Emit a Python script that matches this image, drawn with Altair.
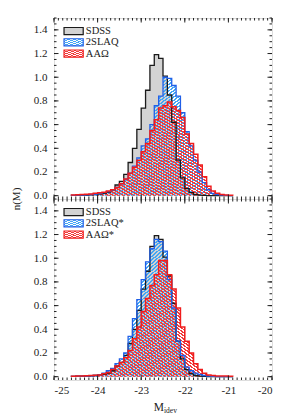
import altair as alt
import pandas as pd
import numpy as np

# ---------------- data ----------------
BIN_LEFT = [round(-24.6 + 0.1 * i, 1) for i in range(37)]   # -24.6 ... -21.0
BIN_WIDTH = 0.1

SDSS = [0.003, 0.005, 0.005, 0.005, 0.008, 0.01, 0.015, 0.02, 0.03, 0.05,
        0.09, 0.12, 0.18, 0.28, 0.40, 0.56, 0.74, 0.89, 1.10, 1.19,
        1.16, 1.01, 0.85, 0.62, 0.30, 0.15, 0.06, 0.025, 0.01, 0.005,
        0.003, 0.0, 0.0, 0.0, 0.0, 0.0, 0.0]

SLAQ_TOP = [0.003, 0.005, 0.005, 0.008, 0.01, 0.012, 0.02, 0.025, 0.035, 0.05,
            0.07, 0.10, 0.14, 0.19, 0.25, 0.32, 0.42, 0.48, 0.60, 0.76,
            0.84, 1.00, 0.99, 0.93, 0.84, 0.70, 0.54, 0.42, 0.30, 0.20,
            0.11, 0.05, 0.02, 0.01, 0.005, 0.003, 0.0]

AAO_TOP = [0.005, 0.008, 0.01, 0.012, 0.015, 0.02, 0.025, 0.03, 0.04, 0.05,
           0.07, 0.10, 0.14, 0.19, 0.24, 0.30, 0.37, 0.44, 0.55, 0.64,
           0.74, 0.76, 0.79, 0.75, 0.72, 0.66, 0.52, 0.44, 0.35, 0.26,
           0.16, 0.08, 0.04, 0.02, 0.01, 0.005, 0.003]

SLAQ_BOT = [0.003, 0.005, 0.005, 0.005, 0.008, 0.01, 0.015, 0.03, 0.05, 0.07,
            0.11, 0.15, 0.20, 0.34, 0.49, 0.65, 0.82, 0.97, 1.08, 1.16,
            1.14, 1.06, 0.82, 0.58, 0.30, 0.18, 0.08, 0.05, 0.03, 0.02,
            0.01, 0.005, 0.003, 0.0, 0.0, 0.0, 0.0]

AAO_BOT = [0.003, 0.005, 0.005, 0.008, 0.01, 0.012, 0.015, 0.025, 0.035, 0.06,
           0.09, 0.12, 0.16, 0.22, 0.32, 0.42, 0.55, 0.66, 0.77, 0.86,
           0.98, 0.98, 0.86, 0.74, 0.58, 0.42, 0.30, 0.20, 0.11, 0.06,
           0.03, 0.015, 0.01, 0.005, 0.005, 0.005, 0.003]

X_TICKS = [-25, -24, -23, -22, -21, -20]
Y_TICKS = [0.0, 0.2, 0.4, 0.6, 0.8, 1.0, 1.2, 1.4]
LEGEND_TOP = ["SDSS", "2SLAQ", "AAΩ"]
LEGEND_BOT = ["SDSS", "2SLAQ*", "AAΩ*"]
LEGEND_ROWS = [1.39, 1.295, 1.20]

# ---------------- style ----------------
W, H = 218, 181
XDOM = [-25, -20]
YDOM = [-0.028, 1.5]
XPX = W / (XDOM[1] - XDOM[0])
YPX = H / (YDOM[1] - YDOM[0])
FONT = "Liberation Serif"
GRAY = "#d3d3d3"
BLUE_LINE = "#1f5fe8"
BLUE_HATCH = "#44a6f4"
RED_LINE = "#f01c1c"
RED_HATCH = "#f23a3a"
CLEAR = "rgba(255,255,255,0)"

xs = alt.Scale(domain=XDOM, nice=False, zero=False)
ys = alt.Scale(domain=YDOM, nice=False, zero=False)


def hatch(color, n, forward=True, duty=0.5):
    stops = []
    for i in range(n):
        a, b, c = i / n, (i + duty) / n, (i + 1) / n
        stops += [alt.GradientStop(offset=a, color=color),
                  alt.GradientStop(offset=b, color=color),
                  alt.GradientStop(offset=b, color=CLEAR),
                  alt.GradientStop(offset=c, color=CLEAR)]
    if forward:   # "/" stripes
        return alt.LinearGradient(gradient="linear", stops=stops, x1=0, y1=0, x2=1, y2=1)
    return alt.LinearGradient(gradient="linear", stops=stops, x1=0, y1=1, x2=1, y2=0)


def n_stripes(vals, period=2.6):
    nz = [i for i, v in enumerate(vals) if v > 0]
    w = (len(nz) + 1) * BIN_WIDTH * XPX
    h = max(vals) * YPX
    spacing = 1.0 / np.sqrt(1.0 / w ** 2 + 1.0 / h ** 2)
    return int(round(2 * spacing / period))


def area_df(vals):
    rows = [{"M": m, "n": v} for m, v in zip(BIN_LEFT, vals)]
    rows.append({"M": round(BIN_LEFT[-1] + BIN_WIDTH, 1), "n": 0.0})
    return pd.DataFrame(rows)


def line_df(vals):
    rows = [{"M": BIN_LEFT[0], "n": 0.0}]
    rows += [{"M": m, "n": v} for m, v in zip(BIN_LEFT, vals)]
    rows.append({"M": round(BIN_LEFT[-1] + BIN_WIDTH, 1), "n": 0.0})
    df = pd.DataFrame(rows)
    df["i"] = range(len(df))
    return df


def panel(slaq, aao, labels, show_x):
    xaxis = alt.Axis(values=X_TICKS, labelExpr="datum.value + ''", ticks=False, domain=False,
                     grid=False, labelPadding=4, title=None, labelFont=FONT, labelFontSize=11,
                     labelColor="#222") if show_x else None
    yaxis = alt.Axis(values=Y_TICKS, format=".1f", ticks=False, domain=False, grid=False,
                     labelPadding=7, title=None, labelFont=FONT, labelFontSize=11, labelColor="#222")

    def X(field):
        return alt.X(field, scale=xs, axis=xaxis)

    def Y(field):
        return alt.Y(field, scale=ys, axis=yaxis, stack=None)

    gray = alt.Chart(area_df(SDSS)).mark_area(interpolate="step-after", color=GRAY).encode(
        x=X("M:Q"), y=Y("n:Q"))
    blue = alt.Chart(area_df(slaq)).mark_area(
        interpolate="step-after", fill=hatch(BLUE_HATCH, n_stripes(slaq), True)).encode(
        x=X("M:Q"), y=Y("n:Q"))
    red = alt.Chart(area_df(aao)).mark_area(
        interpolate="step-after", fill=hatch(RED_HATCH, n_stripes(aao), False)).encode(
        x=X("M:Q"), y=Y("n:Q"))

    def outline(vals, color, sw):
        return alt.Chart(line_df(vals)).mark_line(
            interpolate="step-after", color=color, strokeWidth=sw).encode(
            x=X("M:Q"), y=Y("n:Q"), order="i:Q")

    layers = [gray, blue, red,
              outline(SDSS, "#1a1a1a", 1.3),
              outline(slaq, BLUE_LINE, 1.3),
              outline(aao, RED_LINE, 1.5)]

    # inward ticks
    xmaj = pd.DataFrame({"M": X_TICKS})
    xmin = pd.DataFrame({"M": np.round(np.arange(-25, -19.95, 0.1), 1)})
    ymaj = pd.DataFrame({"n": Y_TICKS})
    ymin = pd.DataFrame({"n": np.round(np.arange(0, 1.501, 0.05), 2)})
    for df, ln in ((xmaj, 4.5), (xmin, 2.5)):
        for y0, y1 in ((H, H - ln), (0, ln)):
            layers.append(alt.Chart(df).mark_rule(color="#222", strokeWidth=1).encode(
                x=X("M:Q"), y=alt.value(y0), y2=alt.value(y1)))
    for df, ln in ((ymaj, 4.5), (ymin, 2.5)):
        for x0, x1 in ((0, ln), (W, W - ln)):
            layers.append(alt.Chart(df).mark_rule(color="#222", strokeWidth=1).encode(
                y=Y("n:Q"), x=alt.value(x0), x2=alt.value(x1)))

    # legend
    fills = [GRAY, hatch(BLUE_HATCH, 7, True), hatch(RED_HATCH, 7, False)]
    strokes = ["#1a1a1a", BLUE_LINE, RED_LINE]
    for lab, yv, fl, st in zip(labels, LEGEND_ROWS, fills, strokes):
        d = pd.DataFrame({"M": [-24.77], "M2": [-24.33], "n": [yv - 0.03], "n2": [yv + 0.03],
                          "ty": [yv], "tx": [-24.27], "label": [lab]})
        layers.append(alt.Chart(d).mark_rect(fill=fl, stroke=st, strokeWidth=1.2).encode(
            x=X("M:Q"), x2="M2:Q", y=Y("n:Q"), y2="n2:Q"))
        layers.append(alt.Chart(d).mark_text(align="left", baseline="middle", font=FONT,
                                             fontSize=10.5, color="#222").encode(
            x=X("tx:Q"), y=Y("ty:Q"), text="label:N"))

    if not show_x:
        layers.append(alt.Chart(pd.DataFrame({"t": ["n(M)"]})).mark_text(
            angle=270, font=FONT, fontSize=11, color="#222", baseline="middle", align="center").encode(
            x=alt.value(-37), y=alt.value(H), text="t:N"))
    else:
        layers.append(alt.Chart(pd.DataFrame({"t": ["M"]})).mark_text(
            font=FONT, fontSize=11.5, color="#222", baseline="middle", align="right").encode(
            x=alt.value(W / 2 + 1), y=alt.value(H + 28), text="t:N"))
        layers.append(alt.Chart(pd.DataFrame({"t": ["idev"]})).mark_text(
            font=FONT, fontSize=7.5, color="#222", baseline="middle", align="left").encode(
            x=alt.value(W / 2 + 1), y=alt.value(H + 31), text="t:N"))

    return alt.layer(*layers).properties(width=W, height=H)


top = panel(SLAQ_TOP, AAO_TOP, LEGEND_TOP, False)
bot = panel(SLAQ_BOT, AAO_BOT, LEGEND_BOT, True)

chart = alt.vconcat(top, bot, spacing=0, bounds="flush").properties(
    padding={"left": 2, "top": 9, "right": 5, "bottom": 2}
).configure_view(stroke="#111", strokeWidth=1.5).configure(background="white")

chart.save("out.html", embed_options={"renderer": "svg", "actions": False})
